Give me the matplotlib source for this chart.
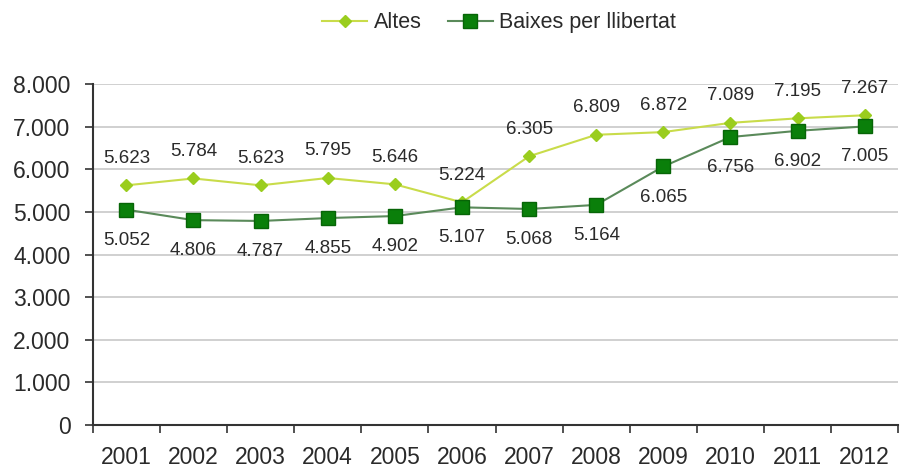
import matplotlib
matplotlib.use("Agg")
import matplotlib.pyplot as plt
from matplotlib.ticker import FuncFormatter, FixedLocator

years = ["2001", "2002", "2003", "2004", "2005", "2006", "2007", "2008", "2009", "2010", "2011", "2012"]
altes = [5623, 5784, 5623, 5795, 5646, 5224, 6305, 6809, 6872, 7089, 7195, 7267]
baixes = [5052, 4806, 4787, 4855, 4902, 5107, 5068, 5164, 6065, 6756, 6902, 7005]
series_names = ["Altes", "Baixes per llibertat"]

plt.rcParams['font.family'] = ['Liberation Sans', 'DejaVu Sans']

fig = plt.figure(figsize=(9.01, 4.72), dpi=100)
ax = fig.add_axes([0.103, 0.0996, 0.894, 0.7224])

x = list(range(len(years)))
ax.plot(x, altes, color='#C9DC4A', lw=1.5, marker='D', markersize=6.5,
        markerfacecolor='#9ACD1E', markeredgecolor='#9ACD1E', label=series_names[0], zorder=3)
ax.plot(x, baixes, color='#5A8A5A', lw=1.5, marker='s', markersize=9.5,
        markerfacecolor='#0A7F0A', markeredgecolor='#076507', label=series_names[1], zorder=3)

def fmt(v):
    return f"{int(v):,}".replace(",", ".")

txtc = '#2a2a2a'
for xi, v in zip(x, altes):
    ax.annotate(fmt(v), (xi, v), xytext=(0, 19.5), textcoords='offset points',
                ha='center', va='center', fontsize=13.5, color=txtc)
for xi, v in zip(x, baixes):
    ax.annotate(fmt(v), (xi, v), xytext=(0, -22), textcoords='offset points',
                ha='center', va='center', fontsize=13.5, color=txtc)

ax.set_xlim(-0.5, len(years) - 0.5)
ax.set_ylim(0, 8000)
ax.set_yticks(range(0, 8001, 1000))
ax.yaxis.set_major_formatter(FuncFormatter(lambda v, p: fmt(v)))
ax.set_xticks(x)
ax.set_xticklabels(years)
ax.xaxis.set_minor_locator(FixedLocator([i - 0.5 for i in range(len(years) + 1)]))
ax.tick_params(axis='x', which='major', length=0, pad=15, labelsize=16.5, colors=txtc)
ax.tick_params(axis='x', which='minor', length=6, width=1.2, color='#333333', direction='out')
ax.tick_params(axis='y', length=6, width=1.2, color='#333333', labelsize=16.5, labelcolor=txtc, pad=10)

ax.grid(axis='y', color='#C8C8C8', lw=1.2)
ax.set_axisbelow(True)
for s in ['top', 'right']:
    ax.spines[s].set_visible(False)
for s in ['left', 'bottom']:
    ax.spines[s].set_color('#333333')
    ax.spines[s].set_linewidth(1.5)

fig.legend(loc='center', bbox_to_anchor=(0.554, 0.952), ncol=2, frameon=False,
           fontsize=15.5, handlelength=2.1, columnspacing=1.2, handletextpad=0.3,
           labelcolor=txtc)

fig.savefig("out.png", dpi=100)
